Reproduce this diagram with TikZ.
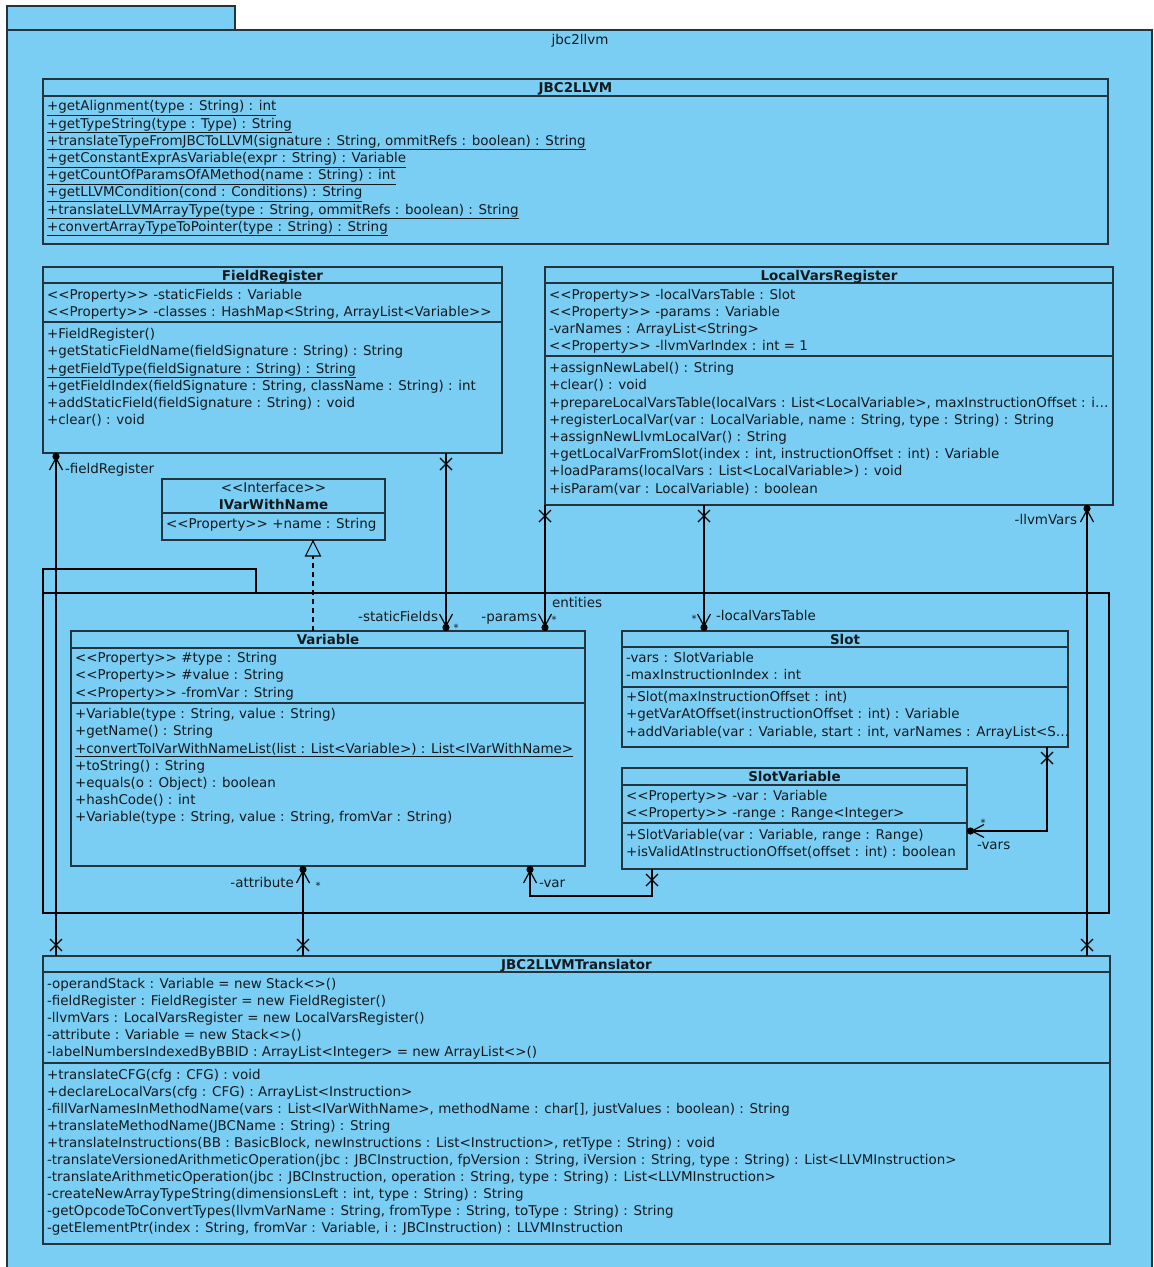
\documentclass[tikz,border=0pt]{standalone}
\usepackage{fontspec}
\newfontfamily\umlfont{DejaVu Sans}
\usetikzlibrary{calc}
\definecolor{pkgfill}{RGB}{122,206,243}
\definecolor{edge}{RGB}{35,52,62}
\definecolor{ink}{RGB}{20,25,30}

% one class box: name, x1, y1, x2, y2 (y grows downwards)
\newcommand\umlclass[5]{%
  \pgfmathsetmacro\cw{#4-#2}\pgfmathsetmacro\ch{#5-#3}%
  \node[cls,minimum width=\cw pt,minimum height=\ch pt,anchor=north west] (#1) at (#2,#3) {};}
% compartment separator: x1, x2, y
\newcommand\cmpline[3]{\draw[cmpsep] (#1,#3) -- (#2,#3);}
% lines of a compartment: prefix, x, first baseline, spacing, list
\newcommand\mlines[5]{%
  \foreach \t [count=\i] in {#5}{%
    \pgfmathsetmacro\yy{#3+(\i-1)*#4}%
    \node[txt,anchor=base west] (#1\i) at (#2,\yy) {\t};}}

\begin{document}
\begin{tikzpicture}[x=1pt,y=-1pt,
  txt/.style={inner sep=0pt,outer sep=0pt,font=\umlfont\fontsize{13.45}{16}\selectfont,text=ink},
  ttl/.style={txt,font=\umlfont\fontsize{13.45}{16}\selectfont\bfseries,anchor=base},
  cls/.style={draw=edge,line width=1.4pt,fill=pkgfill,inner sep=0pt,outer sep=0pt},
  cmpsep/.style={draw=edge,line width=1.4pt},
  pkgline/.style={draw=edge,line width=1.1pt,fill=pkgfill},
  conn/.style={draw=black,line width=1.2pt},
  multlbl/.style={inner sep=0pt,font=\umlfont\fontsize{10}{12}\selectfont,text=ink},
  nav/.pic={\fill[black] (3.5,0) circle[radius=3.6];
            \draw[black,line width=1.2pt] (17,-6.5) -- (5,0) -- (17,6.5);},
  xend/.pic={\draw[black,line width=1.2pt] (5,-6) -- (17,6) (5,6) -- (17,-6);},
  realz/.pic={\draw[black,line width=1.1pt,fill=pkgfill] (1,0) -- (16,-7.5) -- (16,7.5) -- cycle;}
]
\useasboundingbox (0,0) rectangle (1154,1267);
\fill[white] (0,0) rectangle (1154,1267);

% package jbc2llvm
\draw[pkgline] (7,6) rectangle (235,30);
\draw[pkgline] (7,30) rectangle (1152,1280);
\node[txt,anchor=base] (pkgname) at (580,44.5) {jbc2llvm};

% package entities
\draw[pkgline,line width=1.3pt,draw=black] (43,569) rectangle (256,593);
\draw[pkgline,line width=1.3pt,draw=black] (43,593) rectangle (1109,913);
\node[txt,anchor=base west] (entname) at (552,607) {entities};

% JBC2LLVM
\umlclass{jbc}{43}{79}{1108}{244}
\cmpline{43}{1108}{96}
\node[ttl] (jbcT) at (575.5,92.5) {JBC2LLVM};
\mlines{jbcM}{47}{110.9}{17.2}{%
  {\underline{+getAlignment(type : String) : int}},
  {\underline{+getTypeString(type : Type) : String}},
  {\underline{+translateTypeFromJBCToLLVM(signature : String, ommitRefs : boolean) : String}},
  {\underline{+getConstantExprAsVariable(expr : String) : Variable}},
  {\underline{+getCountOfParamsOfAMethod(name : String) : int}},
  {\underline{+getLLVMCondition(cond : Conditions) : String}},
  {\underline{+translateLLVMArrayType(type : String, ommitRefs : boolean) : String}},
  {\underline{+convertArrayTypeToPointer(type : String) : String}}}

% FieldRegister
\umlclass{fr}{43}{267}{502}{453}
\cmpline{43}{502}{283}
\cmpline{43}{502}{322}
\node[ttl] (frT) at (272.5,280) {FieldRegister};
\mlines{frA}{47}{299}{17.2}{%
  {<<Property>> -staticFields : Variable},
  {<<Property>> -classes : HashMap<String, ArrayList<Variable>>}}
\mlines{frM}{47}{338.7}{17.2}{%
  {+FieldRegister()},
  {+getStaticFieldName(fieldSignature : String) : String},
  {\underline{+getFieldType(fieldSignature : String) : String}},
  {+getFieldIndex(fieldSignature : String, className : String) : int},
  {+addStaticField(fieldSignature : String) : void},
  {+clear() : void}}

% LocalVarsRegister
\umlclass{lvr}{545}{267}{1113}{505}
\cmpline{545}{1113}{283}
\cmpline{545}{1113}{356}
\node[ttl] (lvrT) at (829,280) {LocalVarsRegister};
\mlines{lvrA}{549}{299}{17.2}{%
  {<<Property>> -localVarsTable : Slot},
  {<<Property>> -params : Variable},
  {-varNames : ArrayList<String>},
  {<<Property>> -llvmVarIndex : int = 1}}
\mlines{lvrM}{549}{372.7}{17.2}{%
  {+assignNewLabel() : String},
  {+clear() : void},
  {+prepareLocalVarsTable(localVars : List<LocalVariable>, maxInstructionOffset : i…},
  {+registerLocalVar(var : LocalVariable, name : String, type : String) : String},
  {+assignNewLlvmLocalVar() : String},
  {+getLocalVarFromSlot(index : int, instructionOffset : int) : Variable},
  {+loadParams(localVars : List<LocalVariable>) : void},
  {+isParam(var : LocalVariable) : boolean}}

% IVarWithName
\umlclass{ivar}{162}{479}{385}{540}
\cmpline{162}{385}{513}
\node[txt,anchor=base] (ivarS) at (273.5,492.5) {<<Interface>>};
\node[ttl] (ivarT) at (273.5,509.5) {IVarWithName};
\node[txt,anchor=base west] (ivarA) at (166,528.7) {<<Property>> +name : String};

% Variable
\umlclass{var}{71}{631}{585}{866}
\cmpline{71}{585}{648}
\cmpline{71}{585}{703}
\node[ttl] (varT) at (328,644.5) {Variable};
\mlines{varA}{75}{662.7}{17.2}{%
  {<<Property>> \#type : String},
  {<<Property>> \#value : String},
  {<<Property>> -fromVar : String}}
\mlines{varM}{75}{718.7}{17.2}{%
  {+Variable(type : String, value : String)},
  {+getName() : String},
  {\underline{+convertToIVarWithNameList(list : List<Variable>) : List<IVarWithName>}},
  {+toString() : String},
  {+equals(o : Object) : boolean},
  {+hashCode() : int},
  {+Variable(type : String, value : String, fromVar : String)}}

% Slot
\umlclass{slot}{622}{631}{1068}{747}
\cmpline{622}{1068}{647}
\cmpline{622}{1068}{687}
\node[ttl] (slotT) at (845,644.5) {Slot};
\mlines{slotA}{626}{662.7}{17.2}{%
  {-vars : SlotVariable},
  {-maxInstructionIndex : int}}
\mlines{slotM}{626}{701.7}{17.2}{%
  {+Slot(maxInstructionOffset : int)},
  {+getVarAtOffset(instructionOffset : int) : Variable},
  {+addVariable(var : Variable, start : int, varNames : ArrayList<S…}}

% SlotVariable
\umlclass{sv}{622}{768}{967}{869}
\cmpline{622}{967}{785}
\cmpline{622}{967}{823}
\node[ttl] (svT) at (794.5,781.5) {SlotVariable};
\mlines{svA}{626}{800.7}{17.2}{%
  {<<Property>> -var : Variable},
  {<<Property>> -range : Range<Integer>}}
\mlines{svM}{626}{839.7}{17.2}{%
  {+SlotVariable(var : Variable, range : Range)},
  {+isValidAtInstructionOffset(offset : int) : boolean}}

% JBC2LLVMTranslator
\umlclass{tr}{43}{956}{1110}{1244}
\cmpline{43}{1110}{972}
\cmpline{43}{1110}{1063}
\node[ttl] (trT) at (576.5,969.5) {JBC2LLVMTranslator};
\mlines{trA}{47}{988.7}{17.05}{%
  {-operandStack : Variable = new Stack<>()},
  {-fieldRegister : FieldRegister = new FieldRegister()},
  {-llvmVars : LocalVarsRegister = new LocalVarsRegister()},
  {-attribute : Variable = new Stack<>()},
  {-labelNumbersIndexedByBBID : ArrayList<Integer> = new ArrayList<>()}}
\mlines{trM}{47}{1079.7}{17.0}{%
  {+translateCFG(cfg : CFG) : void},
  {+declareLocalVars(cfg : CFG) : ArrayList<Instruction>},
  {-fillVarNamesInMethodName(vars : List<IVarWithName>, methodName : char[], justValues : boolean) : String},
  {+translateMethodName(JBCName : String) : String},
  {+translateInstructions(BB : BasicBlock, newInstructions : List<Instruction>, retType : String) : void},
  {-translateVersionedArithmeticOperation(jbc : JBCInstruction, fpVersion : String, iVersion : String, type : String) : List<LLVMInstruction>},
  {-translateArithmeticOperation(jbc : JBCInstruction, operation : String, type : String) : List<LLVMInstruction>},
  {-createNewArrayTypeString(dimensionsLeft : int, type : String) : String},
  {-getOpcodeToConvertTypes(llvmVarName : String, fromType : String, toType : String) : String},
  {-getElementPtr(index : String, fromVar : Variable, i : JBCInstruction) : LLVMInstruction}}

% associations
\coordinate (aT) at ([xshift=13pt]fr.south west);
\coordinate (aB) at (aT |- tr.north);
\draw[conn] (aB) -- (aT);
\pic[rotate=-90] at (aT) {nav};
\pic[rotate=90] at (aB) {xend};

\coordinate (bT) at ([xshift=403pt]fr.south west);
\coordinate (bB) at (bT |- var.north);
\draw[conn] (bT) -- (bB);
\pic[rotate=-90] at (bT) {xend};
\pic[rotate=90] at (bB) {nav};

\coordinate (cT) at (lvr.south west);
\coordinate (cB) at (cT |- var.north);
\draw[conn] (cT) -- (cB);
\pic[rotate=-90] at (cT) {xend};
\pic[rotate=90] at (cB) {nav};

\coordinate (dT) at ([xshift=159pt]lvr.south west);
\coordinate (dB) at (dT |- slot.north);
\draw[conn,line width=1.6pt] (dT) -- (dB);
\pic[rotate=-90] at (dT) {xend};
\pic[rotate=90] at (dB) {nav};

\coordinate (eT) at ([xshift=-26pt]lvr.south east);
\coordinate (eB) at (eT |- tr.north);
\draw[conn] (eT) -- (eB);
\pic[rotate=-90] at (eT) {nav};
\pic[rotate=90] at (eB) {xend};

\coordinate (fT) at ([xshift=232pt]var.south west);
\coordinate (fB) at (fT |- tr.north);
\draw[conn] (fT) -- (fB);
\pic[rotate=-90] at (fT) {nav};
\pic[rotate=90] at (fB) {xend};

\coordinate (gS) at ([xshift=30pt]sv.south west);
\coordinate (gV) at ([xshift=459pt]var.south west);
\draw[conn] (gS) -- ++(0,27) -| (gV);
\pic[rotate=-90] at (gS) {xend};
\pic[rotate=-90] at (gV) {nav};

\coordinate (hS) at ([xshift=-21pt]slot.south east);
\coordinate (hV) at ([yshift=-12.5pt]sv.east);
\draw[conn] (hS) |- (hV);
\pic[rotate=-90] at (hS) {xend};
\pic at (hV) {nav};

% realization Variable -> IVarWithName
\coordinate (iV) at ([xshift=242pt]var.north west);
\coordinate (iI) at (iV |- ivar.south);
\draw[conn,line width=1.1pt,dash pattern=on 5pt off 4pt] (iV) -- (iI);
\pic[rotate=-90] at (iI) {realz};

% association end labels
\node[txt,anchor=base west] (lblFR) at (65,473.5) {-fieldRegister};
\node[txt,anchor=base east] (lblSF) at (438,621.5) {-staticFields};
\node[multlbl] (mSF) at (456,628) {*};
\node[txt,anchor=base east] (lblPA) at (537,621.5) {-params};
\node[multlbl] (mPA) at (554,620) {*};
\node[multlbl] (mLV) at (694,619) {*};
\node[txt,anchor=base west] (lblLV) at (716,620.5) {-localVarsTable};
\node[txt,anchor=base east] (lblLL) at (1077,524.5) {-llvmVars};
\node[txt,anchor=base east] (lblAT) at (294,887.5) {-attribute};
\node[multlbl] (mAT) at (318,886) {*};
\node[txt,anchor=base west] (lblVR) at (539,887.5) {-var};
\node[multlbl] (mVS) at (983,823) {*};
\node[txt,anchor=base west] (lblVS) at (977,849.5) {-vars};
\end{tikzpicture}
\end{document}
